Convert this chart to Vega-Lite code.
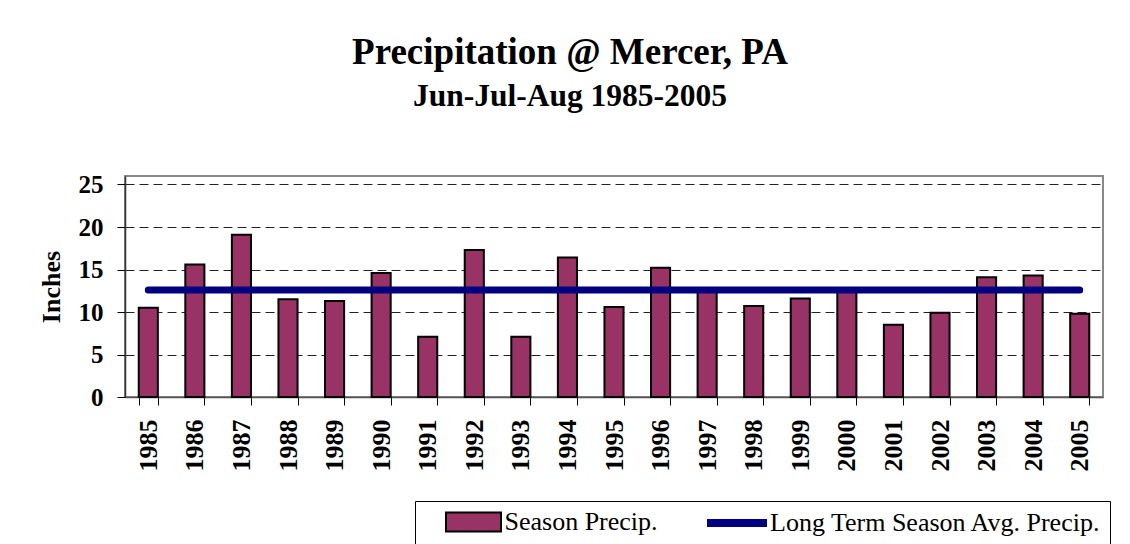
{
  "$schema": "https://vega.github.io/schema/vega-lite/v6.json",
  "width": 978,
  "height": 221,
  "padding": {"left": 38, "top": 34, "right": 5, "bottom": 5},
  "background": "white",
  "title": {
    "text": "Precipitation @ Mercer, PA",
    "subtitle": "Jun-Jul-Aug 1985-2005",
    "font": "Liberation Serif",
    "fontSize": 37,
    "fontWeight": "bold",
    "color": "black",
    "subtitleFont": "Liberation Serif",
    "subtitleFontSize": 31.5,
    "subtitleFontWeight": "bold",
    "subtitleColor": "black",
    "subtitlePadding": 9,
    "anchor": "middle",
    "dx": -44,
    "offset": 59
  },
  "data": {
    "values": [
      {"year": "1985", "precip": 10.5, "avg": 12.6},
      {"year": "1986", "precip": 15.6, "avg": 12.6},
      {"year": "1987", "precip": 19.1, "avg": 12.6},
      {"year": "1988", "precip": 11.5, "avg": 12.6},
      {"year": "1989", "precip": 11.3, "avg": 12.6},
      {"year": "1990", "precip": 14.6, "avg": 12.6},
      {"year": "1991", "precip": 7.1, "avg": 12.6},
      {"year": "1992", "precip": 17.3, "avg": 12.6},
      {"year": "1993", "precip": 7.1, "avg": 12.6},
      {"year": "1994", "precip": 16.4, "avg": 12.6},
      {"year": "1995", "precip": 10.6, "avg": 12.6},
      {"year": "1996", "precip": 15.2, "avg": 12.6},
      {"year": "1997", "precip": 12.5, "avg": 12.6},
      {"year": "1998", "precip": 10.7, "avg": 12.6},
      {"year": "1999", "precip": 11.6, "avg": 12.6},
      {"year": "2000", "precip": 12.4, "avg": 12.6},
      {"year": "2001", "precip": 8.5, "avg": 12.6},
      {"year": "2002", "precip": 9.9, "avg": 12.6},
      {"year": "2003", "precip": 14.1, "avg": 12.6},
      {"year": "2004", "precip": 14.3, "avg": 12.6},
      {"year": "2005", "precip": 9.8, "avg": 12.6}
    ]
  },
  "encoding": {
    "x": {
      "field": "year",
      "type": "ordinal",
      "title": null,
      "scale": {"paddingInner": 0.59, "paddingOuter": 0.295},
      "axis": {
        "labelAngle": -90,
        "labelAlign": "right",
        "labelBaseline": "middle",
        "labelFont": "Liberation Serif",
        "labelFontSize": 26,
        "labelFontWeight": "bold",
        "labelColor": "black",
        "labelPadding": 14,
        "tickBand": "extent",
        "tickSize": 8,
        "tickColor": "black",
        "domainColor": "#555",
        "domainWidth": 1.5
      }
    }
  },
  "layer": [
    {
      "mark": {"type": "bar", "stroke": "black", "strokeWidth": 2},
      "encoding": {
        "y": {
          "field": "precip",
          "type": "quantitative",
          "title": "Inches",
          "scale": {"domain": [0, 25]},
          "axis": {
            "values": [0, 5, 10, 15, 20, 25],
            "labelFont": "Liberation Serif",
            "labelFontSize": 25,
            "labelFontWeight": "bold",
            "labelColor": "black",
            "labelPadding": 14,
            "tickSize": 8,
            "tickColor": "black",
            "domainColor": "#333",
            "domainWidth": 1.5,
            "grid": true,
            "gridColor": "#222",
            "gridDash": [9, 5],
            "gridWidth": 1,
            "titleFont": "Liberation Serif",
            "titleFontSize": 26,
            "titleFontWeight": "bold",
            "titleColor": "black",
            "titlePadding": 14
          }
        },
        "color": {
          "datum": "Season Precip.",
          "type": "nominal",
          "scale": {"domain": ["Season Precip."], "range": ["#993366"]},
          "legend": {
            "title": null,
            "orient": "none",
            "legendX": 290,
            "legendY": 325,
            "labelFont": "Liberation Serif",
            "labelFontSize": 26,
            "labelFontWeight": "normal",
            "labelColor": "black",
            "labelLimit": 600,
            "labelOffset": 18,
            "symbolOffset": 37.5,
            "symbolSize": 400,
            "symbolType": "M-2.75,-0.95H2.75V0.95H-2.75Z",
            "symbolStrokeColor": "black",
            "symbolStrokeWidth": 2,
            "symbolOpacity": 1,
            "strokeColor": null,
            "fillColor": null,
            "padding": 8
          }
        }
      }
    },
    {
      "mark": {"type": "line", "strokeWidth": 7, "strokeCap": "round"},
      "encoding": {
        "y": {"field": "avg", "type": "quantitative"},
        "color": {
          "datum": "Long Term Season Avg. Precip.",
          "type": "nominal",
          "scale": {"domain": ["Long Term Season Avg. Precip."], "range": ["#000080"]},
          "legend": {
            "title": null,
            "orient": "none",
            "legendX": 290,
            "legendY": 325,
            "labelFont": "Liberation Serif",
            "labelFontSize": 26,
            "labelFontWeight": "normal",
            "labelColor": "black",
            "labelLimit": 600,
            "labelOffset": 19,
            "symbolOffset": 300,
            "symbolSize": 400,
            "symbolType": "M-3,0H3",
            "symbolStrokeWidth": 8,
            "symbolOpacity": 1,
            "strokeColor": "black",
            "fillColor": null,
            "padding": 8
          }
        }
      }
    }
  ],
  "resolve": {"scale": {"color": "independent"}},
  "config": {
    "view": {"stroke": "#888", "strokeWidth": 2},
    "font": "Liberation Serif"
  }
}
